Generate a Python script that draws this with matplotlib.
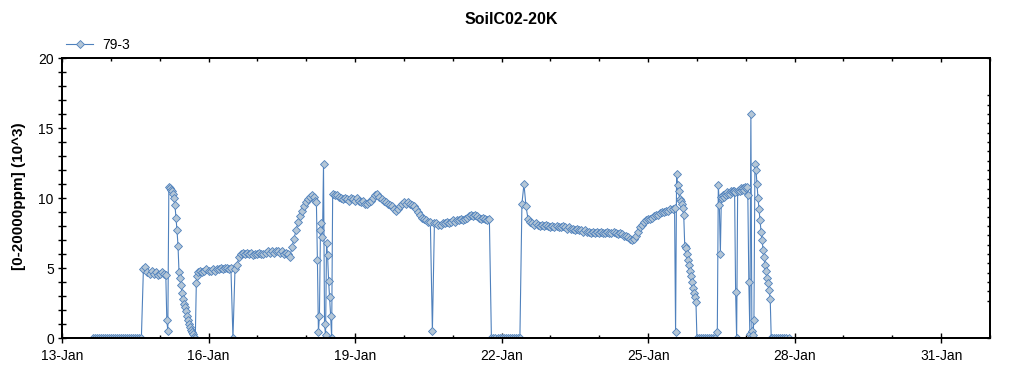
import numpy as np
import pandas as pd
import matplotlib
matplotlib.use("Agg")
import matplotlib.pyplot as plt
import matplotlib.dates as mdates
from matplotlib.ticker import MultipleLocator, FixedLocator
from matplotlib.lines import Line2D

plt.rcParams['font.family'] = ['Liberation Sans', 'DejaVu Sans']

origin = pd.Timestamp("2013-01-13")

# logger blocks: first sample (hours after 13-Jan 00:00), step (hours), readings (10^3 ppm)
block_a_start, block_a_step = 15, 1.0
block_a = [0.0, 0.0, 0.0, 0.0, 0.0, 0.0, 0.0, 0.0, 0.0, 0.0, 0.0, 0.0, 0.0,
           0.0, 0.0, 0.0, 0.0, 0.0, 0.0, 0.0, 0.0, 0.0, 0.0, 0.0, 0.0,
           4.9, 5.1, 4.7, 4.6, 4.8, 4.6, 4.7, 4.5, 4.6, 4.7, 4.6, 4.5]

block_b_start, block_b_step = 51.5, 0.5
block_b = [1.3, 0.5, 10.8, 10.7, 10.6, 10.5, 10.3, 10.0, 9.5, 8.6, 7.7, 6.6,
           4.7, 4.3, 3.8, 3.2, 2.8, 2.4, 2.2, 1.9, 1.6, 1.3, 1.0, 0.8, 0.6,
           0.4, 0.3, 0.1, 0.0, 3.9, 4.4]

block_c_start, block_c_step = 67, 1.0
block_c = [4.7, 4.8, 4.7, 4.8, 4.9, 4.8, 4.8, 4.9, 4.8, 4.9, 4.9, 5.0, 4.9,
           5.0, 5.0, 4.9, 5.0, 0.0, 4.9, 5.2, 5.8, 6.0, 6.1,
           6.0, 6.1, 6.0, 6.1, 5.9, 6.0, 6.0, 6.1, 6.0, 6.0, 6.1, 6.2, 6.1,
           6.2, 6.1, 6.2, 6.2, 6.1, 6.2, 6.0, 6.1, 6.0,
           5.8, 6.5, 7.1, 7.7, 8.3, 8.7, 9.1, 9.4, 9.7, 9.9, 10.1, 10.2, 10.1]

block_d_start, block_d_step = 124.5, 0.5
block_d = [9.8, 9.7, 5.6, 0.4, 1.6, 7.7, 8.2, 7.2, 12.4, 1.0, 0.2, 6.8, 5.9,
           4.1, 2.9, 1.6, 0.0, 10.3]

block_e_start, block_e_step = 134, 1.0
block_e = [10.2, 10.2, 10.1, 10.0, 9.9, 10.0, 9.9, 9.8, 10.0, 9.9, 9.8,
           10.0, 9.8, 9.7, 9.8, 9.6, 9.6, 9.7, 9.8, 10.0, 10.2,
           10.3, 10.1, 9.9, 9.8, 9.7, 9.6, 9.5, 9.4, 9.2, 9.1,
           9.2, 9.4, 9.6, 9.7, 9.6, 9.7, 9.6, 9.5, 9.4, 9.2,
           9.0, 8.8, 8.6, 8.5, 8.4, 8.3, 8.3, 0.5, 8.2, 8.2,
           8.1, 8.1, 8.2, 8.2, 8.3, 8.2, 8.3, 8.4, 8.3, 8.4,
           8.4, 8.5, 8.4, 8.5, 8.6, 8.7, 8.8, 8.7, 8.8, 8.7,
           8.6, 8.5, 8.6, 8.5, 8.4, 8.5]

block_f_start, block_f_step = 211, 1.0
block_f = [0.0, 0.0, 0.0, 0.0, 0.0, 0.0, 0.0, 0.0, 0.0, 0.0, 0.0, 0.0, 0.0,
           0.0, 0.0, 9.6, 11.0, 9.4, 8.5, 8.3,
           8.2, 8.1, 8.2, 8.1, 8.0, 8.1, 8.0, 8.1, 8.0, 7.9,
           8.0, 7.9, 8.0, 7.9, 7.9, 8.0, 7.9, 7.8, 7.9, 7.8,
           7.8, 7.7, 7.8, 7.7, 7.7, 7.6, 7.7, 7.6, 7.6, 7.5,
           7.6, 7.5, 7.6, 7.5, 7.6, 7.5, 7.5, 7.6, 7.5, 7.5,
           7.6, 7.5, 7.4, 7.5, 7.4, 7.3, 7.3, 7.2, 7.1, 7.0,
           7.1, 7.3, 7.6, 7.9, 8.1, 8.3, 8.4, 8.5, 8.5, 8.6,
           8.7, 8.8, 8.8, 8.9, 9.0, 9.0, 9.1, 9.1, 9.2, 9.2, 9.3]

block_g_start, block_g_step = 301.5, 0.5
block_g = [0.4, 11.7, 10.9, 10.5, 9.9, 9.8, 9.6, 9.3, 8.8, 6.6, 6.4, 6.0,
           5.6, 5.2, 4.8, 4.4, 4.0, 3.6, 3.2, 2.9, 2.6, 0.0]

block_h_start, block_h_step = 313, 1.0
block_h = [0.0, 0.0, 0.0, 0.0, 0.0, 0.0, 0.0, 0.0, 0.0]

block_i_start, block_i_step = 322, 0.5
block_i = [0.4, 10.9, 9.5, 6.0, 10.1, 10.0, 10.2, 10.1, 10.3, 10.2,
           10.4, 10.3, 10.3, 10.5, 10.4, 10.5, 10.5, 10.4, 3.3, 0.0,
           10.5, 10.6, 10.5, 10.7, 10.6, 10.7, 10.6, 10.8, 10.7, 10.8,
           10.2, 4.0, 0.3, 16.0, 0.5, 0.2, 1.3, 12.4, 12.0, 11.0,
           10.0, 9.2, 8.4, 7.6, 7.0, 6.3, 5.8, 5.2, 4.8, 4.3,
           3.9, 3.4, 2.8, 0.0]

block_j_start, block_j_step = 349, 1.0
block_j = [0.0, 0.0, 0.0, 0.0, 0.0, 0.0, 0.0, 0.0, 0.0]

blocks = [(block_a_start, block_a_step, block_a), (block_b_start, block_b_step, block_b),
          (block_c_start, block_c_step, block_c), (block_d_start, block_d_step, block_d),
          (block_e_start, block_e_step, block_e), (block_f_start, block_f_step, block_f),
          (block_g_start, block_g_step, block_g), (block_h_start, block_h_step, block_h),
          (block_i_start, block_i_step, block_i), (block_j_start, block_j_step, block_j)]

tick_labels = ["13-Jan", "16-Jan", "19-Jan", "22-Jan", "25-Jan", "28-Jan", "31-Jan"]
x_start, x_end = "2013-01-13", "2013-02-01"

hours = []
values = []
for start, step, vals in blocks:
    hours.extend(start + step * np.arange(len(vals)))
    values.extend(vals)
times = origin + pd.to_timedelta(np.array(hours), unit="h")

blue = '#4F81BD'
face = '#B4C6D6'

fig = plt.figure(figsize=(10.24, 3.75), dpi=100)
ax = fig.add_axes([62 / 1024, 37 / 375, 928 / 1024, 280 / 375])

ax.plot(times, values, color=blue, lw=0.8, marker='D', ms=3.8,
        mfc=face, mec=blue, mew=0.6)

ax.set_xlim(pd.Timestamp(x_start), pd.Timestamp(x_end))
ax.set_ylim(0, 20)

major_days = [pd.Timestamp(d + "-2013") for d in tick_labels]
ax.xaxis.set_major_locator(FixedLocator(mdates.date2num(major_days)))
ax.xaxis.set_minor_locator(mdates.DayLocator())
ax.xaxis.set_major_formatter(mdates.DateFormatter('%d-%b'))
ax.yaxis.set_major_locator(MultipleLocator(5))
ax.yaxis.set_minor_locator(MultipleLocator(1))

ax.tick_params(axis='x', which='major', direction='inout', length=7.2, width=1, labelsize=10, pad=4)
ax.tick_params(axis='x', which='minor', direction='in', length=2.5, width=1)
ax.tick_params(axis='y', which='both', direction='inout', length=5.8, width=1, labelsize=10, pad=3)

for s in ax.spines.values():
    s.set_linewidth(1.2)

# top and right ticks point inward only
ax_top = ax.twiny()
ax_top.set_xlim(ax.get_xlim())
ax_top.set_xticks(ax.get_xticks())
ax_top.set_xticks(ax.get_xticks(minor=True), minor=True)
ax_top.tick_params(axis='x', which='major', direction='in', length=3, width=1, labeltop=False)
ax_top.tick_params(axis='x', which='minor', direction='in', length=2.2, width=1)
ax_right = ax.twinx()
ax_right.set_ylim(ax.get_ylim())
ax_right.set_yticks(ax.get_yticks())
ax_right.set_yticks(ax.get_yticks(minor=True), minor=True)
ax_right.tick_params(axis='y', which='both', direction='in', length=2.5, width=1, labelright=False)
for a in (ax_top, ax_right):
    for s in a.spines.values():
        s.set_linewidth(1.2)

fig.text(511 / 1024, 1 - 19 / 375, 'SoilC02-20K', ha='center', va='center',
         fontsize=11.5, fontweight='bold')
fig.text(19 / 1024, 1 - 196 / 375, '[0-20000ppm] (10^3)', ha='center', va='center',
         rotation=90, fontsize=11, fontweight='bold')

handle = Line2D([], [], color=blue, lw=0.8, marker='D', ms=3.8, mfc=face, mec=blue, mew=0.6)
ax.legend([handle], ['79-3'], loc='center left', bbox_to_anchor=(66 / 1024, 1 - 45 / 375),
          bbox_transform=fig.transFigure, frameon=False, fontsize=10,
          handlelength=1.95, handletextpad=0.65, borderpad=0, borderaxespad=0)

fig.savefig('out.png', dpi=100)
